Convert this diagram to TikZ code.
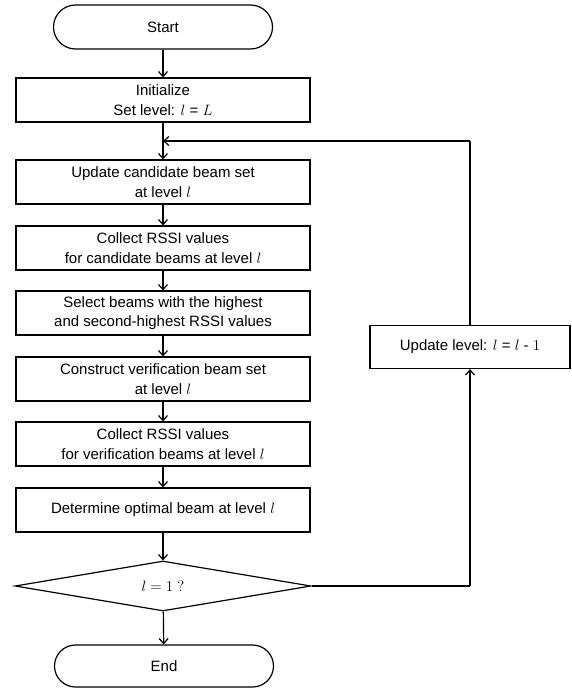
\RequirePackage{fix-cm}
\documentclass[tikz,border=0pt]{standalone}
\usepackage{fontspec}
\setmainfont{Liberation Sans}
\usetikzlibrary{arrows.meta,shapes.geometric}
\begin{document}
\begin{tikzpicture}[x=1pt,y=-1pt,
  every node/.style={font=\fontsize{15}{19.5}\selectfont, align=center, inner sep=0pt},
  proc/.style={draw, line width=1.2pt, minimum width=294pt, minimum height=44pt},
  term/.style={draw, line width=1.2pt, rounded corners=22pt, minimum width=219pt, minimum height=44pt},
  decide/.style={draw, line width=1.2pt, diamond, aspect=5.9, minimum width=296pt, minimum height=50pt},
  flow/.style={line width=1.2pt, -{Straight Barb[length=5pt,width=9pt]}},
  link/.style={line width=1.2pt}]
\useasboundingbox (0,0) rectangle (571,688);
\node[term] (start) at (163,27) {Start};
\node[proc] (init) at (163,100) {Initialize\\Set level: $l$ = $L$};
\node[proc] (upd) at (163,182) {Update candidate beam set\\at level $l$};
\node[proc] (col1) at (163,248) {Collect RSSI values\\for candidate beams at level $l$};
\node[proc] (sel) at (163,313) {Select beams with the highest\\and second-highest RSSI values};
\node[proc] (cons) at (163,379) {Construct verification beam set\\at level $l$};
\node[proc] (col2) at (163,444) {Collect RSSI values\\for verification beams at level $l$};
\node[proc] (det) at (163,510) {Determine optimal beam at level $l$};
\node[decide] (dec) at (163,586) {$l = 1\ ?$};
\node[term, minimum height=42pt, rounded corners=21pt] (end) at (164,666) {End};
\node[draw, line width=1.2pt, minimum width=200pt, minimum height=43pt] (lev) at (470,347) {Update level: $l$ = $l$ - $1$};
\coordinate (merge) at (163,141);
\coordinate (rdown) at (470,586);
\coordinate (rup) at (470,141);
\draw[flow] (start) -- (init);
\draw[flow] (init) -- (upd);
\draw[flow] (upd) -- (col1);
\draw[flow] (col1) -- (sel);
\draw[flow] (sel) -- (cons);
\draw[flow] (cons) -- (col2);
\draw[flow] (col2) -- (det);
\draw[flow] (det) -- (dec);
\draw[flow] (dec) -- (end);
\draw[link] (dec.east) -- (rdown);
\draw[flow] (rdown) -- (lev.south);
\draw[link] (lev.north) -- (rup);
\draw[flow] (rup) -- (merge);
\end{tikzpicture}
\end{document}
